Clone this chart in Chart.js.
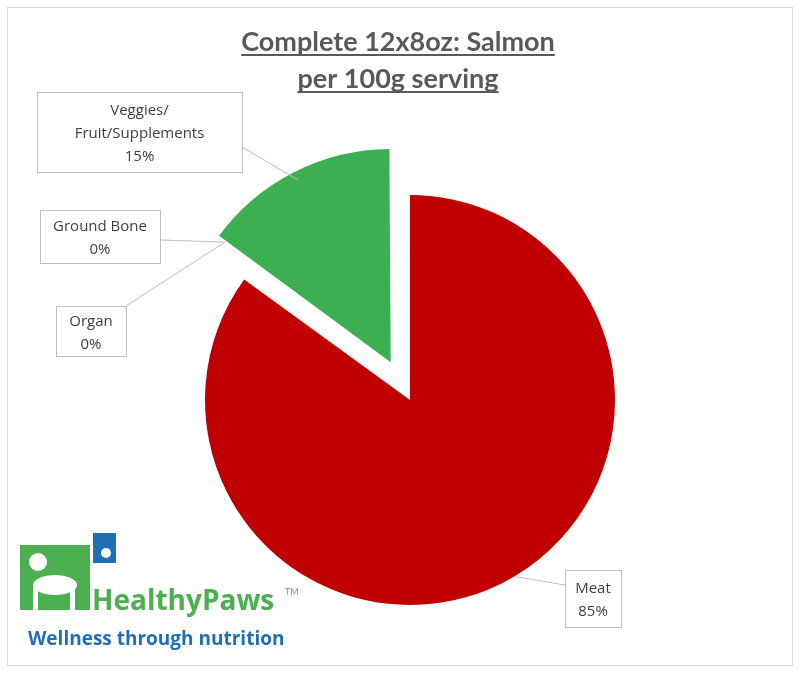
<!DOCTYPE html><html><head><script src="https://cdn.jsdelivr.net/npm/chart.js"></script>
<style>body{margin:0;background:#fff}#w{position:relative;width:800px;height:673px}</style></head><body><div id="w"><canvas id="c" width="800" height="673"></canvas></div>
<script>
const categories=["Meat","Organ","Ground Bone","Veggies/\nFruit/Supplements"];
const values=[85,0,0,15];
const labelsPct=["85%","0%","0%","15%"];
const colors=["#C00000","#ED7D31","#A5A5A5","#3CB050"];
const offsets=[0,0,0,170];
const FONT="Lato, 'Open Sans', sans-serif";
const LFONT="'Open Sans', sans-serif";
const callouts=[
 {i:0,box:[565,570,56,57],anchor:'meat'},
 {i:1,box:[56,306,70,50],anchor:'corner'},
 {i:2,box:[40,210,120,53],anchor:'corner'},
 {i:3,box:[37,92,205,80],anchor:'veg'}
];
const deco={id:'deco',beforeDraw(ch){const x=ch.ctx;x.save();x.fillStyle='#fff';x.fillRect(0,0,800,673);x.strokeStyle='#D9D9D9';x.lineWidth=1;x.strokeRect(7.5,7.5,785,658);x.restore();},
afterDraw(ch){const x=ch.ctx;const m=ch.getDatasetMeta(0).data;x.save();
 x.fillStyle='#595959';x.font="bold 27px "+FONT;x.textAlign='center';x.textBaseline='alphabetic';
 [["Complete 12x8oz: Salmon",51],["per 100g serving",88]].forEach(([t,y])=>{x.fillText(t,398,y);const w=x.measureText(t).width;x.fillRect(398-w/2,y+3,w,2);});
 const v=m[3];const ang=v.startAngle;const mid=(v.startAngle+v.endAngle)/2;const off=42;
 const vx=v.x+Math.cos(mid)*off,vy=v.y+Math.sin(mid)*off;
 const corner=[vx+Math.cos(ang)*v.outerRadius,vy+Math.sin(ang)*v.outerRadius];
 const me=m[0];const a0=Math.PI*0.33;const meatP=[me.x+Math.cos(a0)*me.outerRadius,me.y+Math.sin(a0)*me.outerRadius];
 const vegP=[vx+Math.cos(mid)*v.outerRadius,vy+Math.sin(mid)*v.outerRadius];
 x.font="15px "+LFONT;
 callouts.forEach(c=>{const [bx,by,bw,bh]=c.box;x.fillStyle='#fff';x.strokeStyle='#BFBFBF';x.lineWidth=1;
  x.fillRect(bx,by,bw,bh);x.strokeRect(bx+.5,by+.5,bw,bh);
  let p=c.anchor==='meat'?meatP:c.anchor==='veg'?vegP:corner;
  let s=c.anchor==='meat'?[bx,by+15]:c.anchor==='veg'?[bx+bw,by+55]:[bx+bw,c.i===2?by+30:by];
  x.beginPath();x.moveTo(s[0],s[1]);x.lineTo(p[0],p[1]);x.stroke();
  const lines=categories[c.i].split("\n").concat([labelsPct[c.i]]);x.fillStyle='#404040';x.textAlign='center';
  lines.forEach((l,k)=>x.fillText(l,bx+bw/2,by+bh/2+(k-(lines.length-1)/2)*23+6));});
 x.fillStyle='#4CAF50';x.fillRect(20,545,70,65);x.fillStyle='#1F6FB5';x.fillRect(93,533,23,30);
 x.fillStyle='#fff';x.beginPath();x.ellipse(55,585,22,10,0,0,7);x.fill();x.beginPath();x.arc(38,562,9,0,7);x.fill();x.fillRect(33,585,5,25);x.fillRect(70,585,5,25);
 x.beginPath();x.arc(106,553,5,0,7);x.fill();
 x.fillStyle='#4CAF50';x.font="bold 28px "+LFONT;x.textAlign='left';x.fillText("HealthyPaws",92,610);
 x.font="9px "+FONT;x.fillText("TM",285,595);
 x.fillStyle='#1F6FB5';x.font="bold 19px "+LFONT;x.fillText("Wellness through nutrition",28,645);
 x.restore();}};
new Chart(document.getElementById('c'),{type:'pie',data:{labels:categories,datasets:[{data:values,backgroundColor:colors,offset:offsets,borderWidth:0}]},
options:{responsive:false,animation:false,radius:205,layout:{padding:{left:160,right:140,top:150,bottom:23}},plugins:{legend:{display:false},tooltip:{enabled:false}}},plugins:[deco]});
</script></body></html>
